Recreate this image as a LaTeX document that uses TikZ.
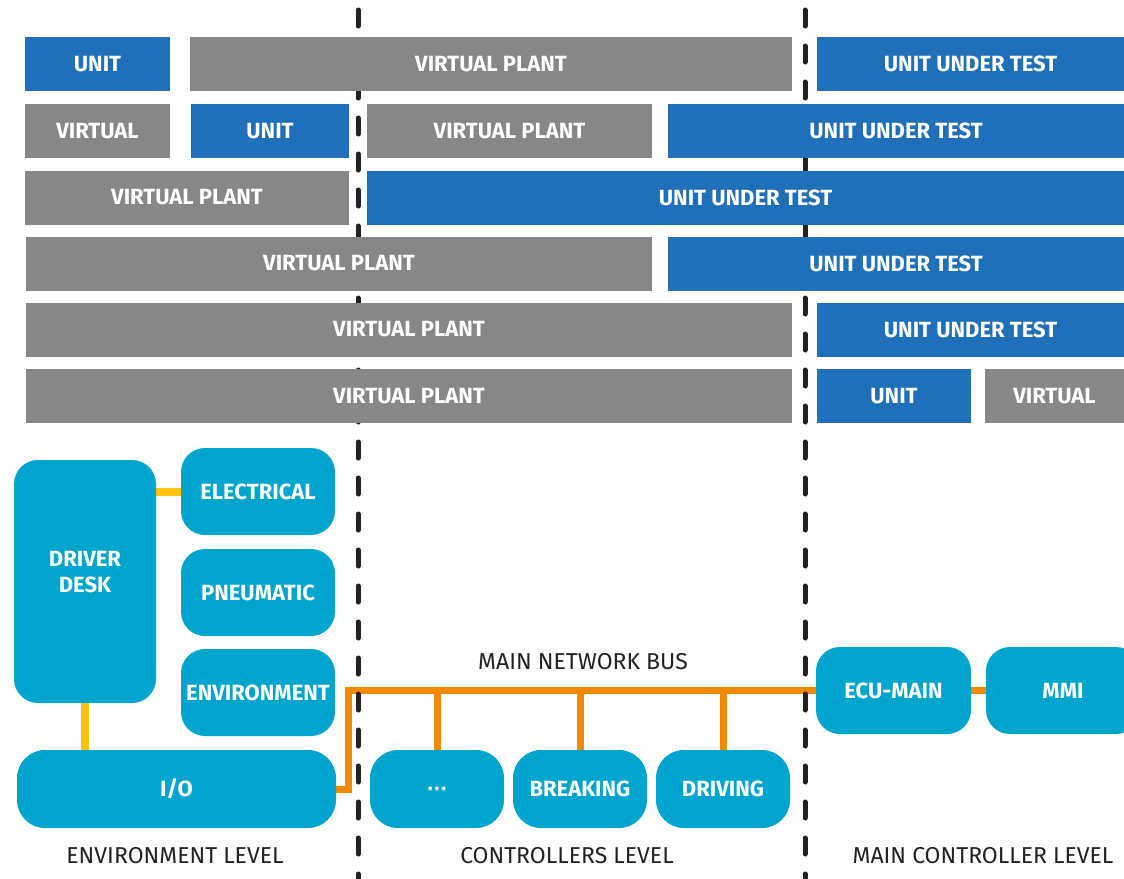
\documentclass[tikz,border=0pt]{standalone}
\usepackage{fontspec}
\setmainfont{Fira Sans}
\usetikzlibrary{positioning,backgrounds}
\definecolor{cPlant}{HTML}{878787}
\definecolor{cUnit}{HTML}{1F70B8}
\definecolor{cComp}{HTML}{00A5CE}
\definecolor{cBus}{HTML}{F28A00}
\definecolor{cLink}{HTML}{FFC20E}
\definecolor{cDiv}{HTML}{222222}
\pgfdeclarelayer{wires}
\pgfdeclarelayer{divider}
\pgfsetlayers{wires,divider,main}
\begin{document}
\begin{tikzpicture}[x=1pt,y=-1pt,
  blk/.style={minimum height=54pt,inner sep=0pt,text=white,font=\fontsize{22}{26}\selectfont\bfseries},
  plant/.style={blk,fill=cPlant},
  uut/.style={blk,fill=cUnit},
  comp/.style={rounded corners=24pt,fill=cComp,text=white,inner xsep=2pt,inner ysep=0pt,align=center,font=\fontsize{22}{26}\selectfont\bfseries},
  bus/.style={draw=cBus,line width=7pt},
  link/.style={draw=cLink,line width=8pt},
  divline/.style={draw=cDiv,line width=5pt,line cap=round,dash pattern=on 16pt off 20pt},
  lvl/.style={font=\fontsize{23}{27}\selectfont,text=cDiv}]
  \path[use as bounding box,clip] (0,0) rectangle (1124,878);

  \node[uut,minimum width=145pt] (r1unit) at (97.5,64) {UNIT};
  \node[plant,minimum width=602pt] (r1plant) at (491,64) {VIRTUAL PLANT};
  \node[uut,minimum width=307pt] (r1uut) at (970.5,64) {UNIT UNDER TEST};

  \node[plant,minimum width=145pt] (r2virt) at (97.5,131) {VIRTUAL};
  \node[uut,minimum width=158pt] (r2unit) at (270,131) {UNIT};
  \node[plant,minimum width=285pt] (r2plant) at (509.5,131) {VIRTUAL PLANT};
  \node[uut,minimum width=456pt] (r2uut) at (896,131) {UNIT UNDER TEST};

  \node[plant,minimum width=324pt] (r3plant) at (187,197.5) {VIRTUAL PLANT};
  \node[uut,minimum width=757pt] (r3uut) at (745.5,197.5) {UNIT UNDER TEST};

  \node[plant,minimum width=626pt] (r4plant) at (339,263.5) {VIRTUAL PLANT};
  \node[uut,minimum width=456pt] (r4uut) at (896,263.5) {UNIT UNDER TEST};

  \node[plant,minimum width=766pt] (r5plant) at (409,329.5) {VIRTUAL PLANT};
  \node[uut,minimum width=307pt] (r5uut) at (970.5,329.5) {UNIT UNDER TEST};

  \node[plant,minimum width=766pt] (r6plant) at (409,396) {VIRTUAL PLANT};
  \node[uut,minimum width=154pt] (r6unit) at (894,396) {UNIT};
  \node[plant,minimum width=139pt] (r6virt) at (1054.5,396) {VIRTUAL};

  \node[comp,minimum width=142pt,minimum height=243pt] (desk) at (85,581.5) {};
  \node[comp,fill=none] (deskname) at ([yshift=9.5pt]desk.center) {DRIVER\\DESK};
  \node[comp,minimum width=154pt,minimum height=87pt] (elec) at (258,491.5) {ELECTRICAL};
  \node[comp,minimum width=154pt,minimum height=87pt] (pneu) at (258,592.5) {PNEUMATIC};
  \node[comp,minimum width=154pt,minimum height=87pt] (env) at (258,692.5) {ENVIRONMENT};
  \node[comp,rounded corners=28pt,minimum width=319pt,minimum height=78pt] (io) at (176.5,789) {I/O};
  \node[comp,rounded corners=28pt,minimum width=134pt,minimum height=78pt] (more) at (437,789) {.\kern1.5pt.\kern1.5pt.};
  \node[comp,rounded corners=28pt,minimum width=134pt,minimum height=78pt] (brake) at (580,789) {BREAKING};
  \node[comp,rounded corners=28pt,minimum width=134pt,minimum height=78pt] (drive) at (723,789) {DRIVING};
  \node[comp,minimum width=155pt,minimum height=87pt] (ecu) at (893.5,690.5) {ECU-MAIN};
  \node[comp,minimum width=154pt,minimum height=87pt] (mmi) at (1063,690.5) {MMI};

  \node[lvl] (busname) at (583,662) {MAIN NETWORK BUS};
  \node[lvl] (envlvl) at (175,856) {ENVIRONMENT LEVEL};
  \node[lvl] (ctrllvl) at (567,856) {CONTROLLERS LEVEL};
  \node[lvl] (mainlvl) at (983,856) {MAIN CONTROLLER LEVEL};

  \coordinate (busL) at (348,690.5);
  \coordinate (divAtop) at (358,10);
  \coordinate (divAbot) at (358,878);
  \coordinate (divBtop) at (805,10);
  \coordinate (divBbot) at (805,878);

  \begin{pgfonlayer}{wires}
    \draw[link] (desk.east |- elec.west) -- (elec.west);
    \draw[link] (desk.south) -- (io.north -| desk.south);
    \draw[bus] (io.east) -| (busL) -- (ecu.west);
    \draw[bus] (more.north) -- (more.north |- busL);
    \draw[bus] (brake.north) -- (brake.north |- busL);
    \draw[bus] (drive.north) -- (drive.north |- busL);
    \draw[bus] (ecu.east) -- (mmi.west);
  \end{pgfonlayer}
  \begin{pgfonlayer}{divider}
    \draw[divline] (divAtop) -- (divAbot);
    \draw[divline] (divBtop) -- (divBbot);
  \end{pgfonlayer}
\end{tikzpicture}
\end{document}
